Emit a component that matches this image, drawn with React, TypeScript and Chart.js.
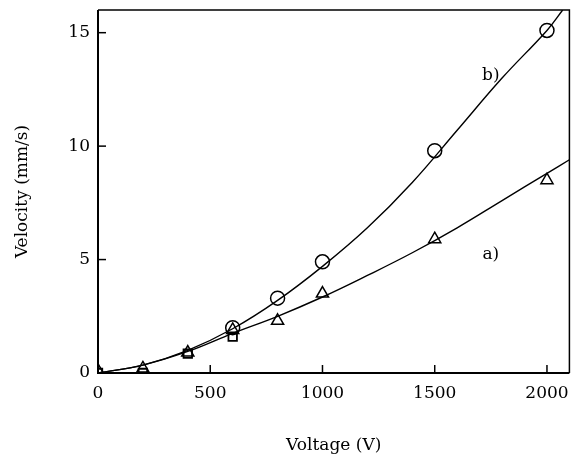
import React, { useEffect, useRef } from "react";
import { Chart, registerables } from "chart.js";

Chart.register(...registerables);

// Measured points (as visible in the picture)
const voltageB = [600, 800, 1000, 1500, 2000];
const velocityB = [2.0, 3.3, 4.9, 9.8, 15.1];

const voltageA = [0, 200, 400, 600, 800, 1000, 1500, 2000];
const velocityA = [0.1, 0.2, 0.9, 1.9, 2.3, 3.5, 5.9, 8.5];

const voltageC = [0, 200, 400, 600];
const velocityC = [0.0, 0.0, 0.85, 1.6];

// Fitted curves
const fitXB = [0, 200, 400, 600, 800, 1000, 1200, 1400, 1600, 1800, 2000, 2070];
const fitYB = [0, 0.35, 1.0, 1.95, 3.2, 4.7, 6.4, 8.4, 10.7, 13.0, 15.1, 16.0];

const fitXA = [0, 200, 400, 600, 800, 1000, 1200, 1400, 1600, 1800, 2000, 2100];
const fitYA = [0, 0.35, 0.95, 1.75, 2.5, 3.35, 4.3, 5.3, 6.4, 7.6, 8.8, 9.4];

const xTicks = [0, 500, 1000, 1500, 2000];
const yTicks = [0, 5, 10, 15];

const curveLabels = ["b)", "a)"];
const curveLabelX = [1750, 1750];
const curveLabelY = [13.1, 5.2];

const FONT = "'DejaVu Serif', serif";

const pts = (xs: number[], ys: number[]) => xs.map((x, i) => ({ x, y: ys[i] }));

const framePlugin = {
  id: "frame",
  afterDraw(chart: any) {
    const { ctx, chartArea: a, scales } = chart;
    ctx.save();
    ctx.strokeStyle = "#000";
    ctx.lineWidth = 1.5;
    ctx.beginPath();
    ctx.moveTo(a.left, a.top);
    ctx.lineTo(a.right, a.top);
    ctx.lineTo(a.right, a.bottom);
    ctx.stroke();
    ctx.lineWidth = 2;
    ctx.beginPath();
    ctx.moveTo(a.left, a.top);
    ctx.lineTo(a.left, a.bottom);
    ctx.lineTo(a.right, a.bottom);
    ctx.stroke();
    ctx.lineWidth = 1.5;
    xTicks.forEach((v) => {
      const px = scales.x.getPixelForValue(v);
      ctx.beginPath();
      ctx.moveTo(px, a.bottom);
      ctx.lineTo(px, a.bottom - 8);
      ctx.stroke();
    });
    yTicks.forEach((v) => {
      const py = scales.y.getPixelForValue(v);
      ctx.beginPath();
      ctx.moveTo(a.left, py);
      ctx.lineTo(a.left + 8, py);
      ctx.stroke();
    });
    ctx.fillStyle = "#000";
    ctx.font = `17px ${FONT}`;
    ctx.textAlign = "center";
    ctx.textBaseline = "middle";
    curveLabels.forEach((t, i) => {
      ctx.fillText(t, scales.x.getPixelForValue(curveLabelX[i]), scales.y.getPixelForValue(curveLabelY[i]));
    });
    ctx.restore();
  },
};

const CANVAS_W = 579;

export default function App() {
  const ref = useRef<HTMLCanvasElement>(null);
  useEffect(() => {
    if (!ref.current) return;
    const marker = {
      borderColor: "#000",
      backgroundColor: "rgba(255,255,255,0)",
      pointBorderWidth: 1.5,
      showLine: false,
    };
    const chart = new Chart(ref.current, {
      type: "scatter",
      data: {
        datasets: [
          { label: "b points", data: pts(voltageB, velocityB), pointStyle: "circle", pointRadius: 7, ...marker },
          { label: "a points", data: pts(voltageA, velocityA), pointStyle: "triangle", pointRadius: 7, ...marker },
          { label: "c points", data: pts(voltageC, velocityC), pointStyle: "rect", pointRadius: 6, ...marker, pointBorderWidth: 1.8 },
          {
            label: "b fit",
            data: pts(fitXB, fitYB),
            showLine: true,
            tension: 0.4,
            borderColor: "#000",
            borderWidth: 1.4,
            pointRadius: 0,
          },
          {
            label: "a fit",
            data: pts(fitXA, fitYA),
            showLine: true,
            tension: 0.4,
            borderColor: "#000",
            borderWidth: 1.4,
            pointRadius: 0,
          },
        ],
      },
      options: {
        animation: false,
        responsive: false,
        maintainAspectRatio: false,
        layout: { padding: { left: 4, top: 10, right: 2, bottom: 0 } },
        plugins: { legend: { display: false }, tooltip: { enabled: false } },
        scales: {
          x: {
            type: "linear",
            min: 0,
            max: 2100,
            border: { display: false },
            grid: { display: false, drawTicks: false },
            afterBuildTicks: (s: any) => {
              s.ticks = xTicks.map((v) => ({ value: v }));
            },
            afterFit: (s: any) => {
              s.height = 83;
            },
            ticks: {
              padding: 10,
              autoSkip: false,
              color: "#000",
              font: { family: FONT, size: 17 },
              maxRotation: 0,
              minRotation: 0,
              callback: (v: any) => String(v),
            },
            title: {
              display: true,
              text: "Voltage (V)",
              color: "#000",
              font: { family: FONT, size: 17 },
              padding: { top: 0, bottom: 0 },
            },
          },
          y: {
            type: "linear",
            min: 0,
            max: 16,
            border: { display: false },
            grid: { display: false, drawTicks: false },
            afterBuildTicks: (s: any) => {
              s.ticks = yTicks.map((v) => ({ value: v }));
            },
            afterFit: (s: any) => {
              s.width = 94;
              s.paddingTop = 0;
              s.paddingBottom = 0;
            },
            ticks: {
              padding: 8,
              autoSkip: false,
              color: "#000",
              font: { family: FONT, size: 17 },
              callback: (v: any) => String(v),
            },
            title: {
              display: true,
              text: "Velocity (mm/s)",
              color: "#000",
              font: { family: FONT, size: 17 },
              padding: { top: 8, bottom: 0 },
            },
          },
        },
      },
      plugins: [framePlugin],
    });
    return () => chart.destroy();
  }, []);
  return (
    <div style={{ position: "fixed", left: 0, top: 0, width: 572, height: 456, background: "#fff", overflow: "hidden" }}>
      <canvas ref={ref} width={CANVAS_W} height={456} style={{ width: CANVAS_W, height: 456 }} />
    </div>
  );
}
